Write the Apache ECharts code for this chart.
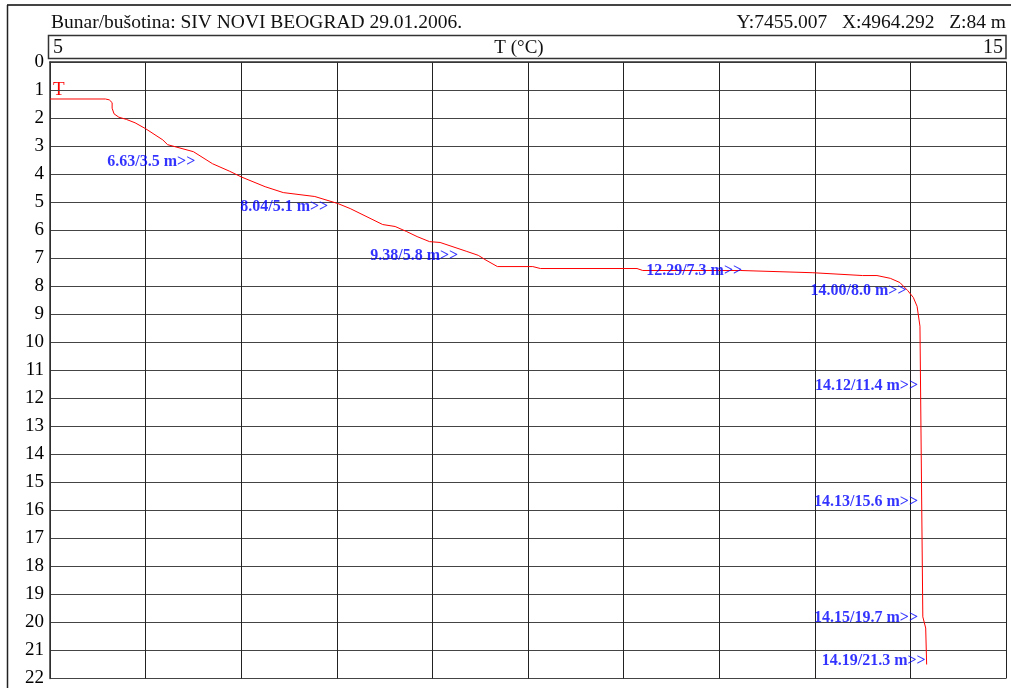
<!DOCTYPE html>
<html>
<head>
<meta charset="utf-8">
<script src="https://cdn.jsdelivr.net/npm/echarts@6/dist/echarts.min.js"></script>
<style>
  html, body { margin: 0; padding: 0; background: #fff; }
  #chart { width: 1011px; height: 688px; }
</style>
</head>
<body>
<div id="chart"></div>
<script>
// Temperature log of the well: temperature (°C) against depth (m)
const tempC = [5.00, 5.58, 5.62, 5.65, 5.65, 5.67, 5.72, 5.80, 5.89, 6.00, 6.18, 6.23, 6.50, 6.70, 6.88, 7.00,
  7.25, 7.44, 7.77, 8.01, 8.14, 8.48, 8.61, 8.73, 8.84, 8.97, 9.08, 9.36, 9.48, 9.55, 9.68, 10.05, 10.13,
  11.14, 11.20, 12.22, 12.98, 13.50, 13.65, 13.79, 13.89, 13.97, 14.03, 14.07, 14.10, 14.13, 14.16, 14.17];
const depthM = [1.32, 1.32, 1.35, 1.45, 1.65, 1.85, 1.97, 2.05, 2.17, 2.38, 2.78, 2.95, 3.20, 3.63, 3.90, 4.10,
  4.45, 4.66, 4.80, 5.05, 5.23, 5.80, 5.87, 6.05, 6.23, 6.41, 6.44, 6.76, 6.90, 7.05, 7.30, 7.30, 7.37,
  7.37, 7.44, 7.44, 7.52, 7.62, 7.62, 7.72, 7.87, 8.15, 8.40, 8.72, 9.43, 19.80, 20.20, 21.50];

// Annotated readings: temperature / depth
const readingT = [6.63, 8.04, 9.38, 12.29, 14.00, 14.12, 14.13, 14.15, 14.19];
const readingDepth = [3.5, 5.1, 5.8, 7.3, 8.0, 11.4, 15.6, 19.7, 21.3];
// Where each annotation ends (the ">>" tip), in axis units [T, depth]
const readingAt = [[6.52, 3.58], [7.91, 5.18], [9.27, 6.92], [12.24, 7.46], [13.96, 8.17],
  [14.08, 11.55], [14.08, 15.68], [14.08, 19.84], [14.16, 21.37]];

const tempRange = [5, 15];
const depthRange = [0, 22];

const titleText = 'Bunar/bušotina: SIV NOVI BEOGRAD 29.01.2006.';
const coordText = 'Y:7455.007   X:4964.292   Z:84 m';
const axisTitle = 'T (°C)';
const seriesName = 'T';

const serif = "'Liberation Serif', 'DejaVu Serif', serif";

const curve = tempC.map((t, i) => [t, depthM[i]]);
const readings = readingT.map((t, i) => ({
  name: t.toFixed(2) + '/' + readingDepth[i].toFixed(1) + ' m>>',
  value: readingAt[i]
}));

const chart = echarts.init(document.getElementById('chart'), null, { renderer: 'canvas' });

chart.setOption({
  animation: false,
  backgroundColor: '#fff',
  grid: { left: 50, right: 5, top: 62, bottom: 8, containLabel: false },
  xAxis: {
    type: 'value',
    min: tempRange[0], max: tempRange[1], interval: 1,
    position: 'top',
    axisLabel: { show: false },
    axisTick: { show: false },
    axisLine: { show: true, lineStyle: { color: '#333', width: 1.5 } },
    splitLine: { show: true, lineStyle: { color: '#222', width: 1 } }
  },
  yAxis: {
    type: 'value',
    inverse: true,
    min: depthRange[0], max: depthRange[1], interval: 1,
    axisTick: { show: false },
    axisLine: { show: true, lineStyle: { color: '#333', width: 1.5 } },
    axisLabel: { color: '#000', fontSize: 19, fontFamily: serif, margin: 6 },
    splitLine: { show: true, lineStyle: { color: '#444', width: 1.2 } }
  },
  graphic: [
    // outer frame
    { type: 'line', shape: { x1: 7, y1: 5, x2: 1011, y2: 5 }, style: { stroke: '#444', lineWidth: 2 } },
    { type: 'line', shape: { x1: 7.5, y1: 5, x2: 7.5, y2: 688 }, style: { stroke: '#222', lineWidth: 1.5 } },
    // titles
    { type: 'text', x: 51, y: 23,
      style: { text: titleText, font: '19.5px ' + serif, fill: '#111', textVerticalAlign: 'middle' } },
    { type: 'text', x: 1006, y: 23,
      style: { text: coordText, font: '19.5px ' + serif, fill: '#111', textAlign: 'right', textVerticalAlign: 'middle' } },
    // temperature scale header box
    { type: 'rect', shape: { x: 48.5, y: 35.5, width: 957.5, height: 23 },
      style: { fill: 'none', stroke: '#333', lineWidth: 1.5 } },
    { type: 'text', x: 53, y: 47.5,
      style: { text: String(tempRange[0]), font: '20px ' + serif, fill: '#111', textVerticalAlign: 'middle' } },
    { type: 'text', x: 1003, y: 47.5,
      style: { text: String(tempRange[1]), font: '20px ' + serif, fill: '#111', textAlign: 'right', textVerticalAlign: 'middle' } },
    { type: 'text', x: 519, y: 48,
      style: { text: axisTitle, font: '19px ' + serif, fill: '#111', textAlign: 'center', textVerticalAlign: 'middle' } },
    // curve name
    { type: 'text', x: 53, y: 90,
      style: { text: seriesName, font: '19px ' + serif, fill: '#ff0000', textVerticalAlign: 'middle' } }
  ],
  series: [
    {
      type: 'line',
      name: seriesName,
      data: curve,
      showSymbol: false,
      symbol: 'none',
      lineStyle: { color: '#ff0000', width: 1 },
      z: 3
    },
    {
      type: 'scatter',
      data: readings,
      symbolSize: 0,
      z: 4,
      label: {
        show: true,
        position: 'left',
        distance: 0,
        formatter: p => p.name,
        color: '#0000ff',
        fontFamily: serif,
        fontWeight: 'bold',
        fontSize: 16
      }
    }
  ]
});
</script>
</body>
</html>
